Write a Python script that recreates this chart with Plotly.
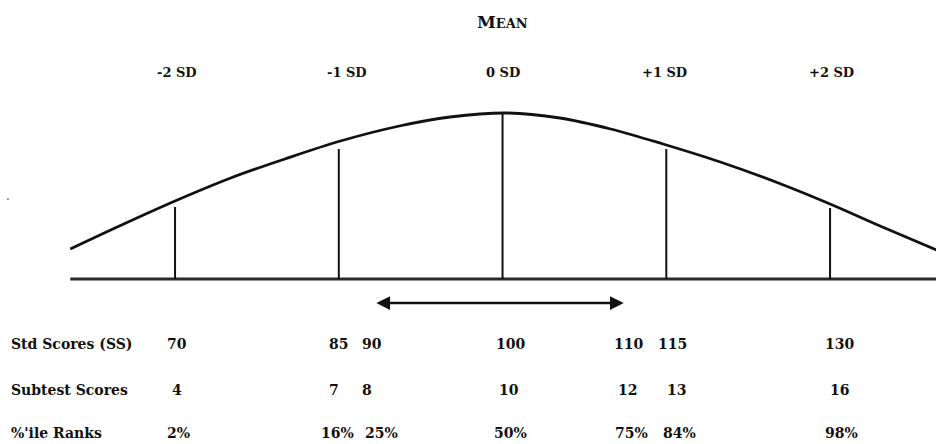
import plotly.graph_objects as go

# ---- data ----
# bell curve (x in SD units, y = height)
curve_sd = [-2.64, -2.34, -2.0, -1.66, -1.33, -0.99, -0.63, -0.32, 0.03,
            0.35, 0.66, 0.98, 1.33, 1.70, 2.0, 2.32, 2.65]
curve_h = [30, 53, 78, 101, 120, 138, 153, 162, 166,
           161, 150, 135, 117, 95, 75, 52, 29]

sd_marks = [-2, -1, 0, 1, 2]
sd_heights = [72, 130, 166, 130, 71]
sd_labels = ["-2 SD", "-1 SD", "0 SD", "+1 SD", "+2 SD"]
sd_label_pos = [-1.99, -0.95, 0.0, 0.99, 2.01]

row_names = ["Std Scores (SS)", "Subtest Scores", "%'ile Ranks"]
std_scores = ["70", "85", "90", "100", "110", "115", "130"]
subtest_scores = ["4", "7", "8", "10", "12", "13", "16"]
pct_ranks = ["2%", "16%", "25%", "50%", "75%", "84%", "98%"]
std_pos = [-1.99, -1.0, -0.8, 0.05, 0.77, 1.04, 2.06]
sub_pos = [-1.99, -1.03, -0.83, 0.04, 0.76, 1.06, 2.06]
pct_pos = [-1.98, -1.01, -0.74, 0.05, 0.79, 1.08, 2.07]
avg_range = [-0.78, 0.74]

FONT = "DejaVu Serif"
INK = "#111111"

fig = go.Figure()

# baseline
fig.add_trace(go.Scatter(x=[curve_sd[0], curve_sd[-1] + 0.02], y=[0, 0], mode="lines",
                         line=dict(color="#2a2a2a", width=3), hoverinfo="skip"))
# SD lines
for s, h in zip(sd_marks, sd_heights):
    fig.add_trace(go.Scatter(x=[s, s], y=[0, h], mode="lines",
                             line=dict(color=INK, width=2), hoverinfo="skip"))
# curve
fig.add_trace(go.Scatter(x=curve_sd, y=curve_h, mode="lines",
                         line=dict(color=INK, width=2.8, shape="spline", smoothing=1.0),
                         hoverinfo="skip"))

ann = []
ann.append(dict(x=0.0, y=257, text="<b>M<span style='font-size:13px'>EAN</span></b>",
                showarrow=False, font=dict(family=FONT, size=17, color=INK)))
for s, t in zip(sd_label_pos, sd_labels):
    ann.append(dict(x=s, y=206.5, text="<b>" + t + "</b>", showarrow=False,
                    font=dict(family=FONT, size=13, color=INK)))

row_y = [-65, -111, -154]
rows = [(std_scores, std_pos), (subtest_scores, sub_pos), (pct_ranks, pct_pos)]
for name, yy, (vals, pos) in zip(row_names, row_y, rows):
    ann.append(dict(x=-3.015, y=yy, text="<b>" + name + "</b>", showarrow=False,
                    xanchor="left", font=dict(family=FONT, size=14, color=INK)))
    for p, v in zip(pos, vals):
        ann.append(dict(x=p, y=yy, text="<b>" + v + "</b>", showarrow=False,
                        font=dict(family=FONT, size=14, color=INK)))

# double-headed arrow
ann.append(dict(x=avg_range[1], y=-24, ax=avg_range[0], ay=-24, axref="x", ayref="y",
                xref="x", yref="y", text="", showarrow=True, arrowhead=2,
                startarrowhead=2, arrowside="end+start", arrowsize=1.1,
                startarrowsize=1.1, arrowwidth=2.5, arrowcolor=INK))
ann.append(dict(x=-3.02, y=79, text="·", showarrow=False,
                font=dict(family=FONT, size=12, color="#555")))

fig.update_layout(
    width=936, height=444,
    margin=dict(l=0, r=0, t=0, b=0),
    paper_bgcolor="white", plot_bgcolor="white",
    showlegend=False,
    annotations=ann,
    xaxis=dict(range=[-3.069, 2.647], visible=False, fixedrange=True),
    yaxis=dict(range=[-165, 279], visible=False, fixedrange=True),
)

fig.write_html("out.html", config={"displayModeBar": False},
               post_script="document.body.style.margin='0';document.body.style.overflow='hidden';")
